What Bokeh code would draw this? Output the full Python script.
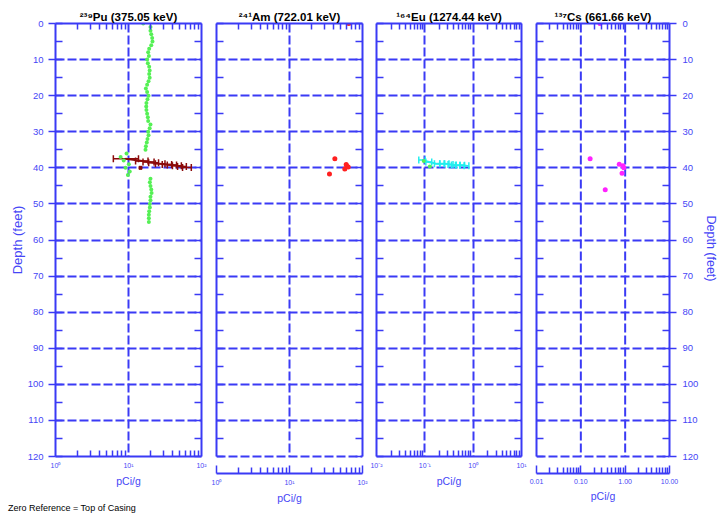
from bokeh.plotting import figure
from bokeh.layouts import row, column
from bokeh.models import (Range1d, FixedTicker, SingleIntervalTicker, LinearAxis, LogAxis,
                          Whisker, TeeHead, ColumnDataSource, Div)
from bokeh.embed import file_html
from bokeh.resources import INLINE

# ---------------- data ----------------
titles = ["²³⁹Pu (375.05 keV)", "²⁴¹Am (722.01 keV)", "¹⁶⁴Eu (1274.44 keV)", "¹³⁷Cs (661.66 keV)"]
x_label = "pCi/g"
y_label = "Depth (feet)"
footer = "Zero Reference = Top of Casing"

pu_am_decades = [1, 10, 100]
pu_am_tick_labels = ["10⁰", "10¹", "10²"]
eu_decades = [0.01, 0.1, 1, 10]
eu_tick_labels = ["10⁻²", "10⁻¹", "10⁰", "10¹"]
cs_decades = [0.01, 0.1, 1, 10]
cs_tick_labels = ["0.01", "0.10", "1.00", "10.00"]

pu_green_depth = [0, 1, 2, 3, 4, 5, 6, 7, 8, 9, 10, 11, 12, 13, 14, 15, 16, 17, 18, 19,
                  20, 21, 22, 23, 24, 25, 26, 27, 28, 29, 30, 31, 32, 33, 34, 35, 36, 37, 38, 39,
                  40, 41, 42, 43, 44, 45, 46, 47, 48, 49, 50, 51, 52, 53, 54, 55]
pu_green_val = [15.9, 20.0, 20.0, 20.5, 21.1, 21.3, 20.5, 19.2, 18.6, 19.0,
                18.0, 18.4, 19.2, 19.5, 19.2, 19.5, 18.8, 18.0, 17.3, 18.0,
                18.8, 18.2, 17.6, 17.5, 17.6, 18.0, 18.4, 18.6, 20.0, 19.5,
                18.6, 18.8, 18.2, 17.8, 17.3, 17.1, 9.4, 7.8, 8.6, 10.1,
                9.1, 10.4, 9.8, 20.0, 19.6, 20.0, 20.5, 20.7, 20.0, 20.0,
                19.6, 19.6, 19.2, 19.0, 19.0, 19.0]

pu_depth = [37.5, 38.1, 38.4, 38.6, 38.9, 39.1, 39.2, 39.4, 39.6, 39.9]
pu_val = [9.1, 15.4, 19.0, 22.2, 27.4, 33.9, 39.7, 46.4, 54.4, 63.7]
pu_lo = [6.2, 12.5, 15.8, 18.9, 23.4, 29.0, 34.0, 40.0, 47.0, 55.0]
pu_hi = [13.7, 18.5, 22.4, 25.8, 31.6, 39.0, 45.5, 53.0, 62.0, 72.5]
pu_extra_depth = [40.0]
pu_extra_val = [14.6]

am_depth = [0.0, 37.5, 39.1, 39.6, 39.8, 40.3, 41.7]
am_val = [64.9, 41.8, 59.8, 61.7, 63.7, 57.2, 35.3]

eu_depth = [37.8, 38.4, 38.9, 38.9, 38.9, 39.1, 39.2, 39.3, 39.3, 39.4]
eu_val = [0.088, 0.121, 0.180, 0.229, 0.281, 0.340, 0.398, 0.482, 0.593, 0.728]
eu_lo = [0.075, 0.105, 0.158, 0.203, 0.250, 0.302, 0.355, 0.430, 0.530, 0.650]
eu_hi = [0.102, 0.139, 0.205, 0.258, 0.316, 0.383, 0.446, 0.540, 0.664, 0.815]
eu_green_depth = [38.1, 39.6]
eu_green_val = [0.095, 0.127]

cs_depth = [0.0, 37.5, 39.0, 39.4, 40.0, 41.5, 46.1]
cs_val = [0.270, 0.162, 0.736, 0.891, 0.935, 0.850, 0.355]

# ---------------- style ----------------
BLUE = "#3a3af5"
TXT = "#4646f6"
FONT = "Liberation Sans"
DEPTH_MAX = 120
H = 517
TOP = 23
BOTTOM = 44


def minor_of(decs):
    out = []
    for d in decs[:-1]:
        for k in range(2, 10):
            out.append(d * k)
    return out


def hide_labels(ax):
    ax.major_label_text_font_size = "1px"
    ax.major_label_text_alpha = 0
    ax.major_label_standoff = 0


def make_panel(title, decades, tick_labels, width, bl, br, offset_axis, left_labels, right_labels):
    height = H if offset_axis else H - 17
    frame_h = height - TOP - BOTTOM
    px_per_ft = 433.0 / DEPTH_MAX
    ymax = frame_h / px_per_ft
    p = figure(width=width, height=height, x_axis_type="log",
               x_range=Range1d(decades[0], decades[-1]), y_range=Range1d(ymax, 0),
               output_backend="svg", toolbar_location=None,
               min_border_left=bl, min_border_right=br, min_border_top=TOP, min_border_bottom=BOTTOM)
    p.outline_line_color = None
    p.background_fill_color = "white"
    p.border_fill_color = "white"
    p.title.text = title
    p.title.align = "center"
    p.title.text_font = FONT
    p.title.text_font_size = "11.5px"
    p.title.text_font_style = "bold"
    p.title.text_color = "black"
    p.title.standoff = 1

    minors = minor_of(decades)
    overrides = {d: lab for d, lab in zip(decades, tick_labels)}

    # bottom x axis
    xa = p.xaxis[0]
    xa.ticker = FixedTicker(ticks=decades, minor_ticks=minors)
    xa.major_label_overrides = overrides
    xa.axis_line_color = BLUE
    xa.axis_line_width = 2
    xa.major_tick_line_color = BLUE
    xa.minor_tick_line_color = BLUE
    xa.major_tick_line_width = 1.5
    xa.minor_tick_line_width = 1.5
    xa.major_tick_in = 8 if offset_axis else 0
    xa.major_tick_out = 0
    xa.minor_tick_in = 6
    xa.minor_tick_out = 0
    xa.major_label_text_font = FONT
    xa.major_label_text_font_size = "7px"
    xa.major_label_text_color = TXT
    xa.major_label_standoff = 5
    xa.axis_label = x_label
    xa.axis_label_text_font = FONT
    xa.axis_label_text_font_size = "10.5px"
    xa.axis_label_text_font_style = "normal"
    xa.axis_label_text_color = TXT
    xa.axis_label_standoff = 3

    # top axis
    ta = LogAxis(ticker=FixedTicker(ticks=decades, minor_ticks=minors),
                 axis_line_color=BLUE, axis_line_width=2,
                 major_tick_in=0, major_tick_out=0, minor_tick_in=6, minor_tick_out=0,
                 minor_tick_line_color=BLUE, minor_tick_line_width=1.5)
    hide_labels(ta)
    p.add_layout(ta, "above")

    # y axes
    bounds = (0, DEPTH_MAX)
    ya = p.yaxis[0]
    ya.ticker = SingleIntervalTicker(interval=10, num_minor_ticks=2)
    ya.bounds = bounds
    ya.axis_line_color = BLUE
    ya.axis_line_width = 2
    ya.major_tick_line_color = BLUE
    ya.minor_tick_line_color = BLUE
    ya.major_tick_line_width = 1.5
    ya.minor_tick_line_width = 1.5
    ya.minor_tick_in = 7
    ya.minor_tick_out = 0
    ya.major_tick_in = 0
    if left_labels:
        ya.major_tick_out = 7
        ya.major_label_text_font = FONT
        ya.major_label_text_font_size = "9.5px"
        ya.major_label_text_color = TXT
        ya.major_label_standoff = 5
        ya.axis_label = y_label
        ya.axis_label_text_font = FONT
        ya.axis_label_text_font_size = "13px"
        ya.axis_label_text_font_style = "normal"
        ya.axis_label_text_color = TXT
        ya.axis_label_standoff = 0
    else:
        ya.major_tick_out = 0
        hide_labels(ya)

    ra = LinearAxis(ticker=SingleIntervalTicker(interval=10, num_minor_ticks=2), bounds=bounds,
                    axis_line_color=BLUE, axis_line_width=2,
                    major_tick_line_color=BLUE, minor_tick_line_color=BLUE,
                    major_tick_line_width=1.5, minor_tick_line_width=1.5,
                    minor_tick_in=7, minor_tick_out=0, major_tick_in=0)
    if right_labels:
        ra.major_tick_out = 7
        ra.major_label_text_font = FONT
        ra.major_label_text_font_size = "9.5px"
        ra.major_label_text_color = TXT
        ra.major_label_standoff = 6
        ra.axis_label = y_label
        ra.axis_label_text_font = FONT
        ra.axis_label_text_font_size = "12.5px"
        ra.axis_label_text_font_style = "normal"
        ra.axis_label_text_color = TXT
        ra.axis_label_standoff = 3
    else:
        ra.major_tick_out = 0
        hide_labels(ra)
    p.add_layout(ra, "right")

    # grids
    p.ygrid.ticker = SingleIntervalTicker(interval=10)
    p.ygrid.grid_line_color = BLUE
    p.ygrid.grid_line_width = 2
    p.ygrid.grid_line_dash = "9 3"
    inner = decades[1:-1]
    if offset_axis:
        p.xgrid.visible = False
        p.segment(x0=inner, y0=[0] * len(inner), x1=inner, y1=[DEPTH_MAX] * len(inner),
                  line_color=BLUE, line_width=2, line_dash="9 3")
    else:
        p.xgrid.ticker = FixedTicker(ticks=inner)
        p.xgrid.grid_line_color = BLUE
        p.xgrid.grid_line_width = 2
        p.xgrid.grid_line_dash = "9 3"
    return p


p1 = make_panel(titles[0], pu_am_decades, pu_am_tick_labels, 208, 55, 7, False, True, False)
p2 = make_panel(titles[1], pu_am_decades, pu_am_tick_labels, 161, 8, 7, True, False, False)
p3 = make_panel(titles[2], eu_decades, eu_tick_labels, 159, 7, 7, False, False, False)
p4 = make_panel(titles[3], cs_decades, cs_tick_labels, 193, 8, 41, True, False, True)

# Pu
p1.scatter(pu_green_val, pu_green_depth, size=4, color="#55f055", line_color=None)
src_pu = ColumnDataSource(dict(v=pu_val, d=pu_depth, lo=pu_lo, hi=pu_hi))
p1.add_layout(Whisker(source=src_pu, base="d", lower="lo", upper="hi", dimension="width",
                      line_color="#8b0a0a", line_width=1.5,
                      lower_head=TeeHead(size=7, line_color="#8b0a0a", line_width=1.5),
                      upper_head=TeeHead(size=7, line_color="#8b0a0a", line_width=1.5)))
p1.line("v", "d", source=src_pu, line_color="#8b0a0a", line_width=2)
p1.scatter(pu_extra_val, pu_extra_depth, size=3, marker="square", color="#8b0a0a")

# Am
p2.scatter(am_val, am_depth, size=5, color="#ff2020", line_color=None)

# Eu
src_eu = ColumnDataSource(dict(v=eu_val, d=eu_depth, lo=eu_lo, hi=eu_hi))
p3.add_layout(Whisker(source=src_eu, base="d", lower="lo", upper="hi", dimension="width",
                      line_color="#22eeee", line_width=1.5,
                      lower_head=TeeHead(size=7, line_color="#22eeee", line_width=1.5),
                      upper_head=TeeHead(size=7, line_color="#22eeee", line_width=1.5)))
p3.line("v", "d", source=src_eu, line_color="#22eeee", line_width=2)
p3.scatter(eu_green_val, eu_green_depth, size=4, color="#55f055", line_color=None)

# Cs
p4.scatter(cs_val, cs_depth, size=5, color="#ff22ff", line_color=None)

# footer
foot = Div(text=footer, width=208, height=17,
           styles={"font-family": FONT, "font-size": "9px", "color": "black",
                   "padding-left": "8px", "line-height": "17px", "margin": "0"})

layout = row(column(p1, foot, spacing=0), p2, p3, p4, spacing=0)
open("out.html", "w").write(file_html(layout, INLINE))
